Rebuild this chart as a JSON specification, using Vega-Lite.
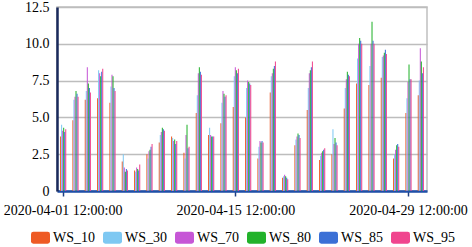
{
  "$schema": "https://vega.github.io/schema/vega-lite/v6.json",
  "width": 370,
  "height": 184,
  "autosize": {"type": "none"},
  "padding": {"left": 57, "top": 7, "right": 45, "bottom": 56},
  "background": "white",
  "config": {
    "view": {"stroke": "#c0c0c0", "strokeWidth": 1.5},
    "font": "Liberation Serif, DejaVu Serif, serif"
  },
  "data": {"values": [
    {"d":"2020-04-01 12:00:00","s":"WS_10","v":3.7},{"d":"2020-04-01 12:00:00","s":"WS_30","v":4.5},{"d":"2020-04-01 12:00:00","s":"WS_70","v":4.1},{"d":"2020-04-01 12:00:00","s":"WS_80","v":4.3},{"d":"2020-04-01 12:00:00","s":"WS_85","v":4.0},{"d":"2020-04-01 12:00:00","s":"WS_95","v":4.2},
    {"d":"2020-04-02 12:00:00","s":"WS_10","v":4.8},{"d":"2020-04-02 12:00:00","s":"WS_30","v":6.2},{"d":"2020-04-02 12:00:00","s":"WS_70","v":6.4},{"d":"2020-04-02 12:00:00","s":"WS_80","v":6.8},{"d":"2020-04-02 12:00:00","s":"WS_85","v":6.6},{"d":"2020-04-02 12:00:00","s":"WS_95","v":6.4},
    {"d":"2020-04-03 12:00:00","s":"WS_10","v":6.2},{"d":"2020-04-03 12:00:00","s":"WS_30","v":6.8},{"d":"2020-04-03 12:00:00","s":"WS_70","v":8.4},{"d":"2020-04-03 12:00:00","s":"WS_80","v":7.3},{"d":"2020-04-03 12:00:00","s":"WS_85","v":7.0},{"d":"2020-04-03 12:00:00","s":"WS_95","v":6.7},
    {"d":"2020-04-04 12:00:00","s":"WS_10","v":6.3},{"d":"2020-04-04 12:00:00","s":"WS_30","v":8.2},{"d":"2020-04-04 12:00:00","s":"WS_70","v":8.0},{"d":"2020-04-04 12:00:00","s":"WS_80","v":7.8},{"d":"2020-04-04 12:00:00","s":"WS_85","v":8.1},{"d":"2020-04-04 12:00:00","s":"WS_95","v":8.3},
    {"d":"2020-04-05 12:00:00","s":"WS_10","v":6.0},{"d":"2020-04-05 12:00:00","s":"WS_30","v":7.1},{"d":"2020-04-05 12:00:00","s":"WS_70","v":7.9},{"d":"2020-04-05 12:00:00","s":"WS_80","v":7.8},{"d":"2020-04-05 12:00:00","s":"WS_85","v":7.0},{"d":"2020-04-05 12:00:00","s":"WS_95","v":6.8},
    {"d":"2020-04-06 12:00:00","s":"WS_10","v":2.0},{"d":"2020-04-06 12:00:00","s":"WS_30","v":2.5},{"d":"2020-04-06 12:00:00","s":"WS_70","v":1.6},{"d":"2020-04-06 12:00:00","s":"WS_80","v":1.3},{"d":"2020-04-06 12:00:00","s":"WS_85","v":1.5},{"d":"2020-04-06 12:00:00","s":"WS_95","v":1.4},
    {"d":"2020-04-07 12:00:00","s":"WS_10","v":1.4},{"d":"2020-04-07 12:00:00","s":"WS_30","v":1.3},{"d":"2020-04-07 12:00:00","s":"WS_70","v":1.6},{"d":"2020-04-07 12:00:00","s":"WS_80","v":1.5},{"d":"2020-04-07 12:00:00","s":"WS_85","v":1.4},{"d":"2020-04-07 12:00:00","s":"WS_95","v":1.8},
    {"d":"2020-04-08 12:00:00","s":"WS_10","v":2.5},{"d":"2020-04-08 12:00:00","s":"WS_30","v":2.2},{"d":"2020-04-08 12:00:00","s":"WS_70","v":2.7},{"d":"2020-04-08 12:00:00","s":"WS_80","v":2.8},{"d":"2020-04-08 12:00:00","s":"WS_85","v":3.0},{"d":"2020-04-08 12:00:00","s":"WS_95","v":3.2},
    {"d":"2020-04-09 12:00:00","s":"WS_10","v":3.3},{"d":"2020-04-09 12:00:00","s":"WS_30","v":3.8},{"d":"2020-04-09 12:00:00","s":"WS_70","v":4.0},{"d":"2020-04-09 12:00:00","s":"WS_80","v":4.3},{"d":"2020-04-09 12:00:00","s":"WS_85","v":4.2},{"d":"2020-04-09 12:00:00","s":"WS_95","v":4.1},
    {"d":"2020-04-10 12:00:00","s":"WS_10","v":3.7},{"d":"2020-04-10 12:00:00","s":"WS_30","v":3.6},{"d":"2020-04-10 12:00:00","s":"WS_70","v":3.4},{"d":"2020-04-10 12:00:00","s":"WS_80","v":3.5},{"d":"2020-04-10 12:00:00","s":"WS_85","v":3.2},{"d":"2020-04-10 12:00:00","s":"WS_95","v":3.4},
    {"d":"2020-04-11 12:00:00","s":"WS_10","v":2.6},{"d":"2020-04-11 12:00:00","s":"WS_30","v":2.2},{"d":"2020-04-11 12:00:00","s":"WS_70","v":3.8},{"d":"2020-04-11 12:00:00","s":"WS_80","v":4.5},{"d":"2020-04-11 12:00:00","s":"WS_85","v":2.9},{"d":"2020-04-11 12:00:00","s":"WS_95","v":3.0},
    {"d":"2020-04-12 12:00:00","s":"WS_10","v":5.3},{"d":"2020-04-12 12:00:00","s":"WS_30","v":6.5},{"d":"2020-04-12 12:00:00","s":"WS_70","v":8.0},{"d":"2020-04-12 12:00:00","s":"WS_80","v":8.4},{"d":"2020-04-12 12:00:00","s":"WS_85","v":8.1},{"d":"2020-04-12 12:00:00","s":"WS_95","v":7.9},
    {"d":"2020-04-13 12:00:00","s":"WS_10","v":3.8},{"d":"2020-04-13 12:00:00","s":"WS_30","v":4.3},{"d":"2020-04-13 12:00:00","s":"WS_70","v":3.8},{"d":"2020-04-13 12:00:00","s":"WS_80","v":3.7},{"d":"2020-04-13 12:00:00","s":"WS_85","v":3.7},{"d":"2020-04-13 12:00:00","s":"WS_95","v":3.7},
    {"d":"2020-04-14 12:00:00","s":"WS_10","v":4.6},{"d":"2020-04-14 12:00:00","s":"WS_30","v":6.0},{"d":"2020-04-14 12:00:00","s":"WS_70","v":6.8},{"d":"2020-04-14 12:00:00","s":"WS_80","v":6.6},{"d":"2020-04-14 12:00:00","s":"WS_85","v":6.4},{"d":"2020-04-14 12:00:00","s":"WS_95","v":6.5},
    {"d":"2020-04-15 12:00:00","s":"WS_10","v":5.7},{"d":"2020-04-15 12:00:00","s":"WS_30","v":7.8},{"d":"2020-04-15 12:00:00","s":"WS_70","v":8.4},{"d":"2020-04-15 12:00:00","s":"WS_80","v":8.2},{"d":"2020-04-15 12:00:00","s":"WS_85","v":8.0},{"d":"2020-04-15 12:00:00","s":"WS_95","v":8.3},
    {"d":"2020-04-16 12:00:00","s":"WS_10","v":5.0},{"d":"2020-04-16 12:00:00","s":"WS_30","v":7.0},{"d":"2020-04-16 12:00:00","s":"WS_70","v":7.5},{"d":"2020-04-16 12:00:00","s":"WS_80","v":7.4},{"d":"2020-04-16 12:00:00","s":"WS_85","v":7.3},{"d":"2020-04-16 12:00:00","s":"WS_95","v":7.2},
    {"d":"2020-04-17 12:00:00","s":"WS_10","v":2.2},{"d":"2020-04-17 12:00:00","s":"WS_30","v":3.0},{"d":"2020-04-17 12:00:00","s":"WS_70","v":3.4},{"d":"2020-04-17 12:00:00","s":"WS_80","v":3.3},{"d":"2020-04-17 12:00:00","s":"WS_85","v":3.4},{"d":"2020-04-17 12:00:00","s":"WS_95","v":3.3},
    {"d":"2020-04-18 12:00:00","s":"WS_10","v":6.7},{"d":"2020-04-18 12:00:00","s":"WS_30","v":7.8},{"d":"2020-04-18 12:00:00","s":"WS_70","v":8.0},{"d":"2020-04-18 12:00:00","s":"WS_80","v":8.3},{"d":"2020-04-18 12:00:00","s":"WS_85","v":8.5},{"d":"2020-04-18 12:00:00","s":"WS_95","v":8.8},
    {"d":"2020-04-19 12:00:00","s":"WS_10","v":0.9},{"d":"2020-04-19 12:00:00","s":"WS_30","v":1.0},{"d":"2020-04-19 12:00:00","s":"WS_70","v":1.1},{"d":"2020-04-19 12:00:00","s":"WS_80","v":1.0},{"d":"2020-04-19 12:00:00","s":"WS_85","v":0.9},{"d":"2020-04-19 12:00:00","s":"WS_95","v":0.8},
    {"d":"2020-04-20 12:00:00","s":"WS_10","v":3.1},{"d":"2020-04-20 12:00:00","s":"WS_30","v":3.5},{"d":"2020-04-20 12:00:00","s":"WS_70","v":3.7},{"d":"2020-04-20 12:00:00","s":"WS_80","v":3.9},{"d":"2020-04-20 12:00:00","s":"WS_85","v":3.8},{"d":"2020-04-20 12:00:00","s":"WS_95","v":3.6},
    {"d":"2020-04-21 12:00:00","s":"WS_10","v":5.5},{"d":"2020-04-21 12:00:00","s":"WS_30","v":7.0},{"d":"2020-04-21 12:00:00","s":"WS_70","v":8.0},{"d":"2020-04-21 12:00:00","s":"WS_80","v":8.2},{"d":"2020-04-21 12:00:00","s":"WS_85","v":8.4},{"d":"2020-04-21 12:00:00","s":"WS_95","v":8.8},
    {"d":"2020-04-22 12:00:00","s":"WS_10","v":2.1},{"d":"2020-04-22 12:00:00","s":"WS_30","v":2.4},{"d":"2020-04-22 12:00:00","s":"WS_70","v":2.6},{"d":"2020-04-22 12:00:00","s":"WS_80","v":2.7},{"d":"2020-04-22 12:00:00","s":"WS_85","v":2.8},{"d":"2020-04-22 12:00:00","s":"WS_95","v":2.9},
    {"d":"2020-04-23 12:00:00","s":"WS_10","v":2.5},{"d":"2020-04-23 12:00:00","s":"WS_30","v":4.2},{"d":"2020-04-23 12:00:00","s":"WS_70","v":3.2},{"d":"2020-04-23 12:00:00","s":"WS_80","v":3.6},{"d":"2020-04-23 12:00:00","s":"WS_85","v":3.3},{"d":"2020-04-23 12:00:00","s":"WS_95","v":3.1},
    {"d":"2020-04-24 12:00:00","s":"WS_10","v":5.6},{"d":"2020-04-24 12:00:00","s":"WS_30","v":7.0},{"d":"2020-04-24 12:00:00","s":"WS_70","v":7.6},{"d":"2020-04-24 12:00:00","s":"WS_80","v":8.1},{"d":"2020-04-24 12:00:00","s":"WS_85","v":7.9},{"d":"2020-04-24 12:00:00","s":"WS_95","v":7.8},
    {"d":"2020-04-25 12:00:00","s":"WS_10","v":7.3},{"d":"2020-04-25 12:00:00","s":"WS_30","v":9.0},{"d":"2020-04-25 12:00:00","s":"WS_70","v":10.0},{"d":"2020-04-25 12:00:00","s":"WS_80","v":10.4},{"d":"2020-04-25 12:00:00","s":"WS_85","v":10.2},{"d":"2020-04-25 12:00:00","s":"WS_95","v":10.0},
    {"d":"2020-04-26 12:00:00","s":"WS_10","v":7.2},{"d":"2020-04-26 12:00:00","s":"WS_30","v":8.5},{"d":"2020-04-26 12:00:00","s":"WS_70","v":10.0},{"d":"2020-04-26 12:00:00","s":"WS_80","v":11.5},{"d":"2020-04-26 12:00:00","s":"WS_85","v":10.2},{"d":"2020-04-26 12:00:00","s":"WS_95","v":10.0},
    {"d":"2020-04-27 12:00:00","s":"WS_10","v":7.7},{"d":"2020-04-27 12:00:00","s":"WS_30","v":9.1},{"d":"2020-04-27 12:00:00","s":"WS_70","v":9.2},{"d":"2020-04-27 12:00:00","s":"WS_80","v":9.4},{"d":"2020-04-27 12:00:00","s":"WS_85","v":9.6},{"d":"2020-04-27 12:00:00","s":"WS_95","v":9.3},
    {"d":"2020-04-28 12:00:00","s":"WS_10","v":2.2},{"d":"2020-04-28 12:00:00","s":"WS_30","v":2.5},{"d":"2020-04-28 12:00:00","s":"WS_70","v":2.8},{"d":"2020-04-28 12:00:00","s":"WS_80","v":3.1},{"d":"2020-04-28 12:00:00","s":"WS_85","v":3.2},{"d":"2020-04-28 12:00:00","s":"WS_95","v":3.0},
    {"d":"2020-04-29 12:00:00","s":"WS_10","v":5.3},{"d":"2020-04-29 12:00:00","s":"WS_30","v":6.3},{"d":"2020-04-29 12:00:00","s":"WS_70","v":7.4},{"d":"2020-04-29 12:00:00","s":"WS_80","v":8.6},{"d":"2020-04-29 12:00:00","s":"WS_85","v":7.6},{"d":"2020-04-29 12:00:00","s":"WS_95","v":7.6},
    {"d":"2020-04-30 12:00:00","s":"WS_10","v":6.5},{"d":"2020-04-30 12:00:00","s":"WS_30","v":7.5},{"d":"2020-04-30 12:00:00","s":"WS_70","v":9.7},{"d":"2020-04-30 12:00:00","s":"WS_80","v":8.8},{"d":"2020-04-30 12:00:00","s":"WS_85","v":8.0},{"d":"2020-04-30 12:00:00","s":"WS_95","v":8.4}
  ]},
  "mark": {"type": "bar"},
  "encoding": {
    "x": {
      "field": "d", "type": "nominal", "sort": null,
      "scale": {"paddingInner": 0.5, "paddingOuter": 0.25},
      "axis": {
        "title": null,
        "values": ["2020-04-01 12:00:00", "2020-04-15 12:00:00", "2020-04-29 12:00:00"],
        "labelAngle": 0,
        "labelFont": "Liberation Serif, DejaVu Serif, serif",
        "labelFontSize": 14,
        "labelColor": "#000000",
        "labelPadding": 7,
        "labelOverlap": false,
        "domainColor": "#1f4fa8",
        "domainWidth": 2.5,
        "tickColor": "#1f3f80",
        "tickSize": 5,
        "tickWidth": 1.5,
        "grid": false
      }
    },
    "xOffset": {"field": "s", "type": "nominal", "sort": ["WS_10","WS_30","WS_70","WS_80","WS_85","WS_95"]},
    "y": {
      "field": "v", "type": "quantitative",
      "scale": {"domain": [0, 12.5], "nice": false},
      "axis": {
        "title": null,
        "values": [0, 2.5, 5, 7.5, 10, 12.5],
        "labelExpr": "datum.value == 0 ? '0' : format(datum.value, '.1f')",
        "labelFont": "Liberation Serif, DejaVu Serif, serif",
        "labelFontSize": 14,
        "labelColor": "#000000",
        "labelPadding": 8,
        "ticks": false,
        "domainColor": "#1a2a5c",
        "domainWidth": 2.5,
        "gridColor": "#bdbdbd",
        "gridWidth": 1.5
      }
    },
    "color": {
      "field": "s", "type": "nominal",
      "scale": {
        "domain": ["WS_10","WS_30","WS_70","WS_80","WS_85","WS_95"],
        "range": ["#ee5a24","#7ec8f2","#c656d6","#22b22a","#3b70d6","#f0458e"]
      },
      "legend": {
        "title": null,
        "orient": "none",
        "direction": "horizontal",
        "legendX": -26,
        "legendY": 221,
        "symbolType": "M-0.75,-0.63 L0.75,-0.63 Q1,-0.63 1,-0.38 L1,0.38 Q1,0.63 0.75,0.63 L-0.75,0.63 Q-1,0.63 -1,0.38 L-1,-0.38 Q-1,-0.63 -0.75,-0.63 Z",
        "symbolSize": 361,
        "symbolStrokeWidth": 0,
        "symbolOpacity": 1,
        "labelFont": "Liberation Serif, DejaVu Serif, serif",
        "labelFontSize": 14,
        "labelColor": "#000000",
        "labelOffset": 3,
        "columnPadding": 8
      }
    }
  }
}
